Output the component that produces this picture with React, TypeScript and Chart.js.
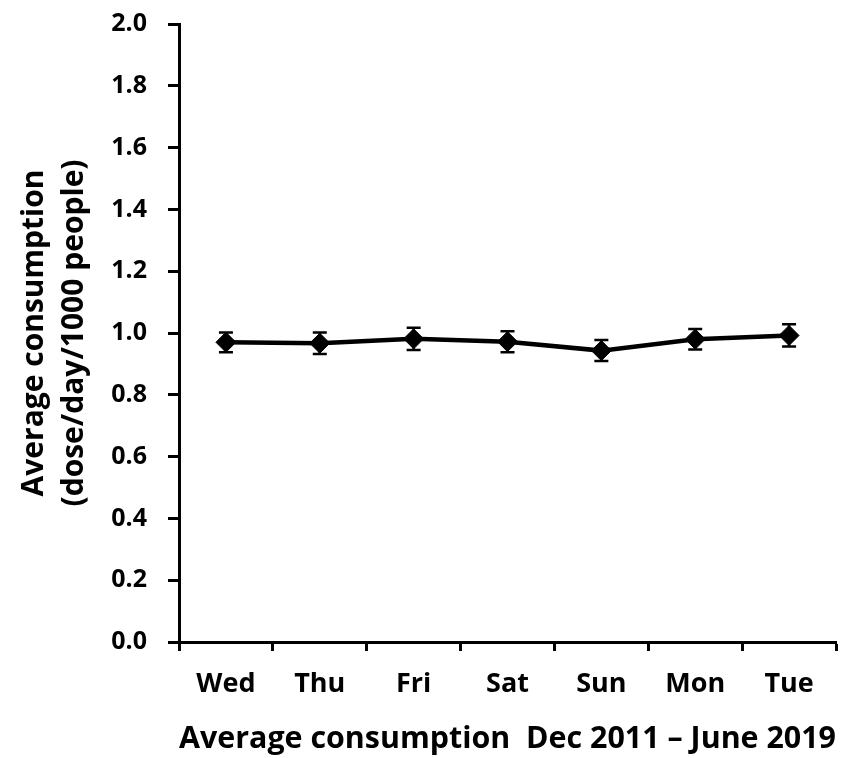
import React, { useEffect, useRef } from 'react';
import { Chart, registerables } from 'chart.js';
import type { Plugin } from 'chart.js';

Chart.register(...registerables);

// values
const days = ['Wed', 'Thu', 'Fri', 'Sat', 'Sun', 'Mon', 'Tue'];
const avgConsumption = [0.970, 0.967, 0.981, 0.972, 0.943, 0.980, 0.992];
const stdError = [0.032, 0.035, 0.036, 0.034, 0.034, 0.033, 0.036];
const yTickValues = [0.0, 0.2, 0.4, 0.6, 0.8, 1.0, 1.2, 1.4, 1.6, 1.8, 2.0];

const FONT = '"Open Sans", sans-serif';

// draws the vertical error bars with caps, behind the line/markers
const errorBarPlugin: Plugin<'line'> = {
  id: 'errorBars',
  beforeDatasetsDraw(chart) {
    const { ctx, scales } = chart;
    const x = scales.x;
    const y = scales.y;
    ctx.save();
    ctx.strokeStyle = '#000';
    ctx.lineWidth = 2.5;
    avgConsumption.forEach((v, i) => {
      const px = x.getPixelForValue(i);
      const top = y.getPixelForValue(v + stdError[i]);
      const bot = y.getPixelForValue(v - stdError[i]);
      ctx.beginPath();
      ctx.moveTo(px, top);
      ctx.lineTo(px, bot);
      ctx.moveTo(px - 7, top);
      ctx.lineTo(px + 7, top);
      ctx.moveTo(px - 7, bot);
      ctx.lineTo(px + 7, bot);
      ctx.stroke();
    });
    ctx.restore();
  },
};

export default function App() {
  const canvasRef = useRef<HTMLCanvasElement>(null);
  const chartRef = useRef<Chart | null>(null);

  useEffect(() => {
    if (!canvasRef.current) return;
    if (chartRef.current) chartRef.current.destroy();

    chartRef.current = new Chart(canvasRef.current, {
      type: 'line',
      data: {
        labels: days,
        datasets: [
          {
            data: avgConsumption,
            borderColor: '#000',
            backgroundColor: '#000',
            borderWidth: 4.5,
            pointStyle: 'rectRot',
            pointRadius: 10,
            pointHoverRadius: 10,
            pointBorderWidth: 1,
            tension: 0,
          },
        ],
      },
      options: {
        responsive: false,
        animation: false,
        layout: { padding: { top: 0, right: 12, bottom: 0, left: 0 } },
        plugins: {
          legend: { display: false },
          tooltip: { enabled: false },
        },
        scales: {
          x: {
            type: 'category',
            offset: true,
            grid: {
              offset: true,
              drawOnChartArea: false,
              tickLength: 9,
              tickColor: '#000',
              tickWidth: 3,
            },
            border: { color: '#000', width: 3 },
            ticks: {
              color: '#000',
              padding: 17,
              font: { family: FONT, size: 27, weight: 'bold' },
            },
            title: {
              display: true,
              text: 'Average consumption  Dec 2011 \u2013 June 2019',
              color: '#000',
              font: { family: FONT, size: 30.5, weight: 'bold' },
              padding: { top: 0, bottom: 0 },
            },
            afterFit: (s) => {
              s.height = 116;
            },
          },
          y: {
            min: 0,
            max: 2,
            afterBuildTicks: (s) => {
              s.ticks = yTickValues.map((v) => ({ value: v }));
            },
            grid: {
              drawOnChartArea: false,
              tickLength: 11,
              tickColor: '#000',
              tickWidth: 3,
            },
            border: { color: '#000', width: 3 },
            ticks: {
              color: '#000',
              padding: 21,
              font: { family: FONT, size: 25, weight: 'bold' },
              callback: (v) => Number(v).toFixed(1),
            },
            title: {
              display: true,
              text: ['Average consumption', '(dose/day/1000 people)'],
              color: '#000',
              font: { family: FONT, size: 30, weight: 'bold', lineHeight: 1.35 },
              padding: { top: 14, bottom: 0 },
            },
            afterFit: (s) => {
              s.width = 179;
              s.paddingTop = 24;
              s.paddingBottom = 12;
            },
          },
        },
      },
      plugins: [errorBarPlugin],
    });

    return () => {
      if (chartRef.current) {
        chartRef.current.destroy();
        chartRef.current = null;
      }
    };
  }, []);

  return (
    <div style={{ position: 'fixed', left: 0, top: 0, width: 848, height: 758, background: '#fff' }}>
      <canvas ref={canvasRef} width={848} height={758} style={{ width: 848, height: 758 }}></canvas>
    </div>
  );
}
